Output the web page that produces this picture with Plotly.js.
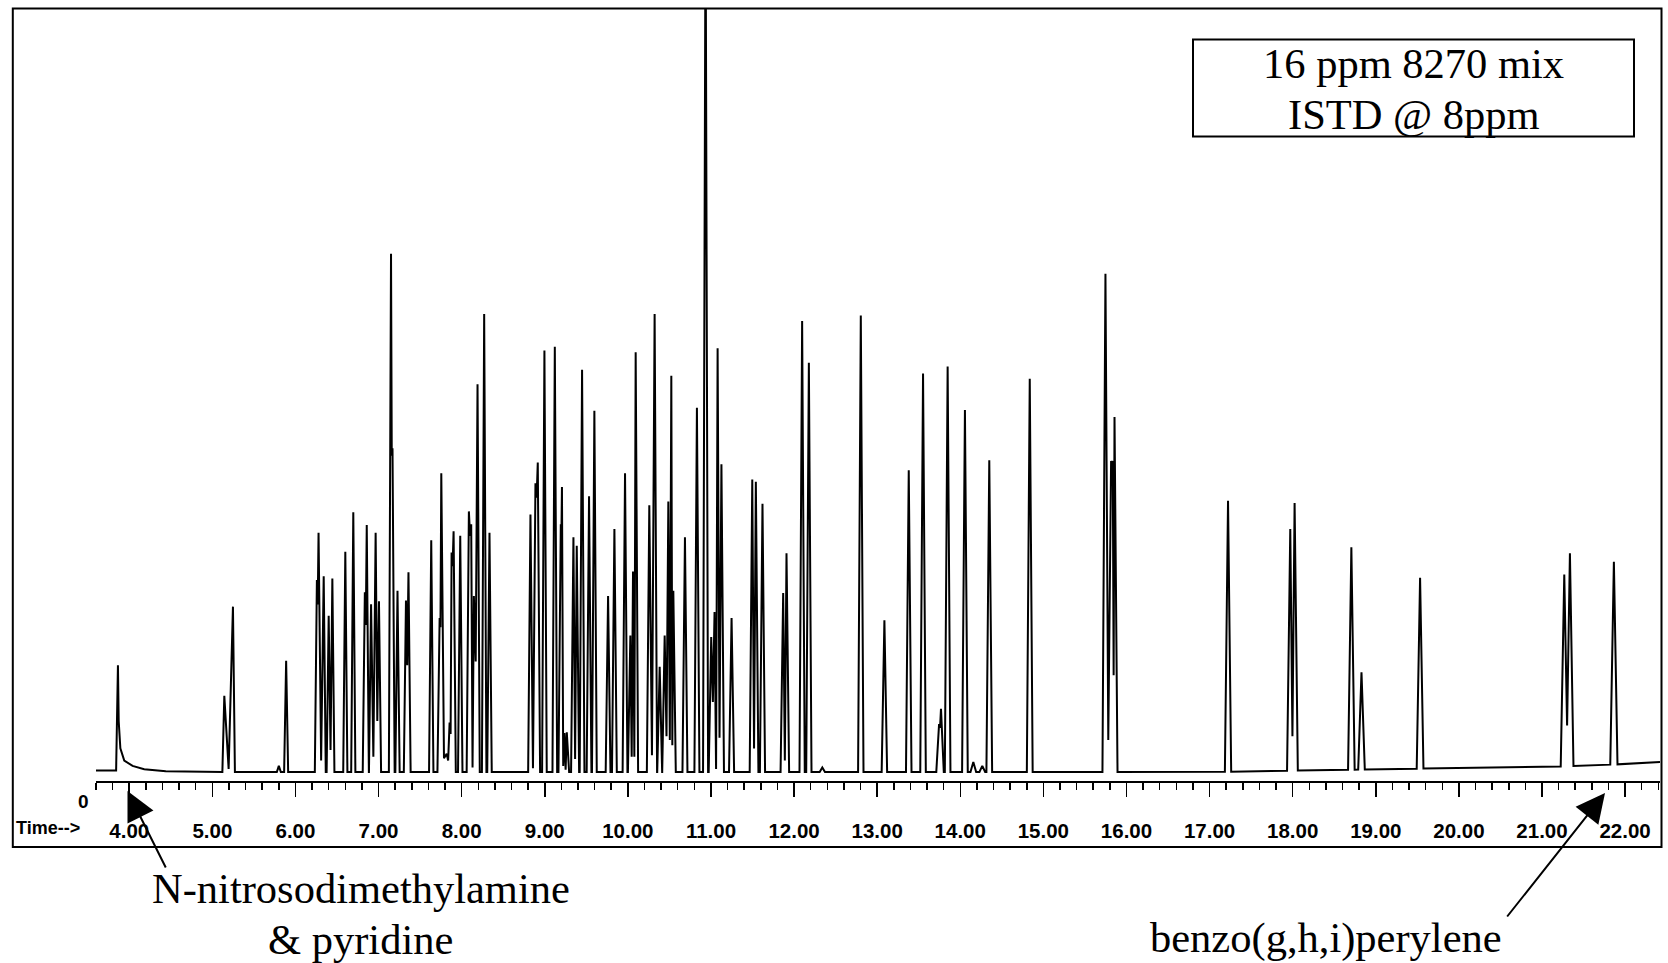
<!DOCTYPE html>
<html>
<head>
<meta charset="utf-8">
<script src="https://cdn.plot.ly/plotly-3.0.1.min.js"></script>
<style>
html,body{margin:0;padding:0;background:#ffffff;}
#chart{width:1668px;height:963px;}
</style>
</head>
<body>
<div id="chart"></div>
<script>
// ---------------- DATA ----------------
// retention time of each peak apex (min)
const peakTime = [3.864, 5.144, 5.248, 5.80, 5.888, 6.258, 6.278, 6.34, 6.40, 6.444, 6.60, 6.696,
  6.835, 6.858, 6.91, 6.965, 7.005, 7.15, 7.168, 7.228, 7.33, 7.36, 7.634, 7.735, 7.755, 7.82, 7.855,
  7.879, 7.903, 7.983, 8.087, 8.115, 8.147, 8.191, 8.271, 8.335, 8.828, 8.888, 8.916, 8.996, 9.121,
  9.193, 9.207, 9.237, 9.265, 9.345, 9.385, 9.449, 9.533, 9.597, 9.762, 9.838, 9.966, 10.03, 10.062,
  10.094, 10.258, 10.322, 10.383, 10.443, 10.487, 10.523, 10.547, 10.687, 10.831, 10.935, 11.003,
  11.043, 11.08, 11.126, 11.248, 11.497, 11.54, 11.62, 11.869, 11.909, 12.097, 12.178, 12.34, 12.803,
  13.087, 13.38, 13.552, 13.745, 13.768, 13.848, 14.056, 14.157, 14.265, 14.349, 14.836, 15.747,
  15.815, 15.835, 15.856, 17.222, 17.971, 18.023, 18.706, 18.828, 19.533, 21.268, 21.336, 21.865];
// apex abundance (relative units, 100 = top of the frame)
const peakHeight = [14.0, 10.0, 21.7, 0.8, 14.6, 25.2, 31.4, 25.7, 20.5, 25.4, 28.9, 34.1,
  23.6, 32.4, 22.0, 31.4, 22.4, 68.0, 42.5, 23.8, 22.5, 26.2, 30.4, 20.2, 39.2, 2.4, 6.5,
  28.8, 31.6, 31.0, 34.2, 32.5, 23.1, 50.9, 60.1, 31.4, 33.8, 37.9, 40.6, 55.3, 55.8,
  32.5, 37.4, 5.1, 5.2, 30.8, 29.7, 52.8, 36.2, 47.4, 23.1, 31.9, 39.2, 17.9, 26.3,
  55.1, 35.0, 60.1, 13.8, 17.9, 35.5, 52.0, 23.8, 30.8, 47.8, 115, 17.7,
  21.0, 55.6, 40.4, 20.2, 38.4, 38.1, 35.2, 23.5, 28.7, 59.2, 53.7, 0.6, 59.9,
  19.9, 39.6, 52.3, 6.3, 8.3, 53.2, 47.5, 1.3, 0.8, 40.9, 51.6, 65.4,
  40.8, 40.8, 46.6, 35.6, 31.9, 35.3, 29.5, 13.1, 25.5, 25.9, 28.7, 27.6];
// level of the valley between a peak and the next one (0 = back to baseline)
const valleyAfter = [0, 0.4, 0, 0, 0, 22, 1.5, 0, 2.9, 0, 0, 0,
  19.3, 0, 2, 6.7, 0, 41.5, 0, 0, 14, 0, 0, 19, 1.8, 1.5, 5,
  27, 0, 0, 31, 0.6, 14.5, 0, 0, 0, 0.5, 36, 0, 0, 0,
  31, 0.8, 0.3, 0, 1.7, 0, 0, 0, 0, 0, 0, 0, 2, 2,
  0, 2.2, 0, 0, 4.7, 4.2, 3.5, 0, 0, 0, 0, 9.2,
  0.4, 4.5, 0, 0, 3.1, 0, 0, 1.5, 0, 0, 0, 0, 0,
  0, 0, 0, 5.8, 0, 0, 0, 0, 0, 0, 0, 4.2,
  40.5, 12.7, 0, 0, 4.7, 0, 0, 0, 0, 6.1, 0, 0];
// solvent-front tailing after the first peak
const tailTime  = [3.873, 3.893, 3.94, 4.04, 4.18, 4.44];
const tailLevel = [6.7, 3.1, 1.5, 0.8, 0.36, 0.1];
// baseline level along the run
const baseTime  = [3.6, 3.84, 4.5, 17.0, 19.6, 21.2, 21.9, 22.42];
const baseLevel = [0.2, 0.2, 0, 0, 0.45, 0.7, 1.0, 1.3];

const axisRange = [3.6, 22.42];
const boxLines = ['16 ppm 8270 mix', 'ISTD @ 8ppm'];
const leftLabel = ['N-nitrosodimethylamine', '& pyridine'];
const rightLabel = 'benzo(g,h,i)perylene';

// ---------------- build the trace ----------------
function baseAt(t) {
  for (let i = 0; i < baseTime.length - 1; i++) {
    if (t >= baseTime[i] && t <= baseTime[i + 1]) {
      const f = (t - baseTime[i]) / (baseTime[i + 1] - baseTime[i]);
      return baseLevel[i] + f * (baseLevel[i + 1] - baseLevel[i]);
    }
  }
  return t < baseTime[0] ? baseLevel[0] : baseLevel[baseLevel.length - 1];
}
function halfWidth(t) { return 0.022 + 0.0012 * (t - 4); }

const xs = [], ys = [];
function push(x, y) { xs.push(x); ys.push(y); }
push(axisRange[0], baseAt(axisRange[0]));
for (let i = 0; i < peakTime.length; i++) {
  const t = peakTime[i], hw = halfWidth(t);
  const prevValley = i > 0 ? valleyAfter[i - 1] : 0;
  if (prevValley <= 0) {
    const xl = t - hw;
    if (xl > xs[xs.length - 1]) push(xl, baseAt(xl));
  }
  push(t, peakHeight[i]);
  if (i === 0) {
    for (let k = 0; k < tailTime.length; k++) push(tailTime[k], tailLevel[k]);
    continue;
  }
  if (valleyAfter[i] > 0 && i + 1 < peakTime.length) {
    push((t + peakTime[i + 1]) / 2, valleyAfter[i]);
  } else {
    let xr = t + hw;
    if (i + 1 < peakTime.length) {
      const nl = peakTime[i + 1] - halfWidth(peakTime[i + 1]);
      if (xr > nl) xr = (t + peakTime[i + 1]) / 2;
    }
    push(xr, baseAt(xr));
  }
}
push(axisRange[1], baseAt(axisRange[1]));

// ---------------- layout geometry ----------------
const W = 1668, H = 963, ML = 96, MR = 8, MT = 8, MB = 182;
const PW = W - ML - MR, PH = H - MT - MB;
const px = x => (x - ML) / PW;
const py = y => (H - MB - y) / PH;
const unitPx = 7.62;
const yBottom = -9 / unitPx;
const yRange = [yBottom, yBottom + PH / unitPx];

const sans = 'Liberation Sans, Arial, sans-serif';
const serif = 'Liberation Serif, Times New Roman, serif';
const serifSize = 42.5;

const trace = {
  x: xs, y: ys, type: 'scatter', mode: 'lines',
  line: {color: '#000000', width: 2, simplify: false},
  hoverinfo: 'skip'
};

const layout = {
  width: W, height: H,
  margin: {l: ML, r: MR, t: MT, b: MB, pad: 0},
  paper_bgcolor: '#ffffff', plot_bgcolor: '#ffffff',
  showlegend: false,
  xaxis: {
    range: axisRange, showgrid: false, zeroline: false,
    showline: true, linecolor: '#000', linewidth: 2,
    ticks: 'outside', ticklen: 14, tickwidth: 1.5, tickcolor: '#000',
    tickmode: 'linear', tick0: 4, dtick: 1, tickformat: '.2f',
    tickfont: {family: sans, size: 20.5, color: '#000', weight: 'bold'},
    ticklabelstandoff: 16,
    minor: {ticks: 'outside', ticklen: 7, tickwidth: 1.5, tickcolor: '#000', dtick: 0.2, tick0: 4, showgrid: false},
    fixedrange: true
  },
  yaxis: {
    range: yRange, visible: false, showgrid: false, zeroline: false, fixedrange: true
  },
  shapes: [
    {type: 'rect', xref: 'paper', yref: 'paper', x0: px(12.8), x1: px(1661.5), y0: py(847), y1: py(8.5),
     line: {color: '#000', width: 2}, fillcolor: 'rgba(0,0,0,0)'},
    {type: 'rect', xref: 'paper', yref: 'paper', x0: px(1193), x1: px(1634), y0: py(136.5), y1: py(39.5),
     line: {color: '#000', width: 2}, fillcolor: '#ffffff'}
  ],
  annotations: [
    {text: '0', xref: 'paper', yref: 'paper', x: px(83.5), y: py(802), xanchor: 'center', yanchor: 'middle',
     showarrow: false, font: {family: sans, size: 19, color: '#000', weight: 'bold'}},
    {text: 'Time-->', xref: 'paper', yref: 'paper', x: px(14), y: py(828), xanchor: 'left', yanchor: 'middle',
     showarrow: false, font: {family: sans, size: 18, color: '#000', weight: 'bold'}},
    {text: boxLines[0], xref: 'paper', yref: 'paper', x: px(1413.5), y: py(64), xanchor: 'center', yanchor: 'middle',
     showarrow: false, font: {family: serif, size: serifSize, color: '#000'}},
    {text: boxLines[1], xref: 'paper', yref: 'paper', x: px(1413.5), y: py(114), xanchor: 'center', yanchor: 'middle',
     showarrow: false, font: {family: serif, size: serifSize, color: '#000'}},
    {text: leftLabel[0], xref: 'paper', yref: 'paper', x: px(360.5), y: py(888), xanchor: 'center', yanchor: 'middle',
     showarrow: false, font: {family: serif, size: serifSize, color: '#000'}},
    {text: leftLabel[1], xref: 'paper', yref: 'paper', x: px(360.5), y: py(939), xanchor: 'center', yanchor: 'middle',
     showarrow: false, font: {family: serif, size: serifSize, color: '#000'}},
    {text: rightLabel, xref: 'paper', yref: 'paper', x: px(1326), y: py(938), xanchor: 'center', yanchor: 'middle',
     showarrow: false, font: {family: serif, size: serifSize, color: '#000'}},
    {text: '', xref: 'paper', yref: 'paper', x: px(127.5), y: py(791), ax: 39, ay: 78, axref: 'pixel', ayref: 'pixel',
     showarrow: true, arrowhead: 2, arrowsize: 2.9, arrowwidth: 2, arrowcolor: '#000', standoff: 0, startstandoff: 0},
    {text: '', xref: 'paper', yref: 'paper', x: px(1605), y: py(793), ax: -99, ay: 125, axref: 'pixel', ayref: 'pixel',
     showarrow: true, arrowhead: 2, arrowsize: 2.9, arrowwidth: 2, arrowcolor: '#000', standoff: 0, startstandoff: 0}
  ]
};

Plotly.newPlot('chart', [trace], layout, {staticPlot: true, displayModeBar: false});
</script>
</body>
</html>
